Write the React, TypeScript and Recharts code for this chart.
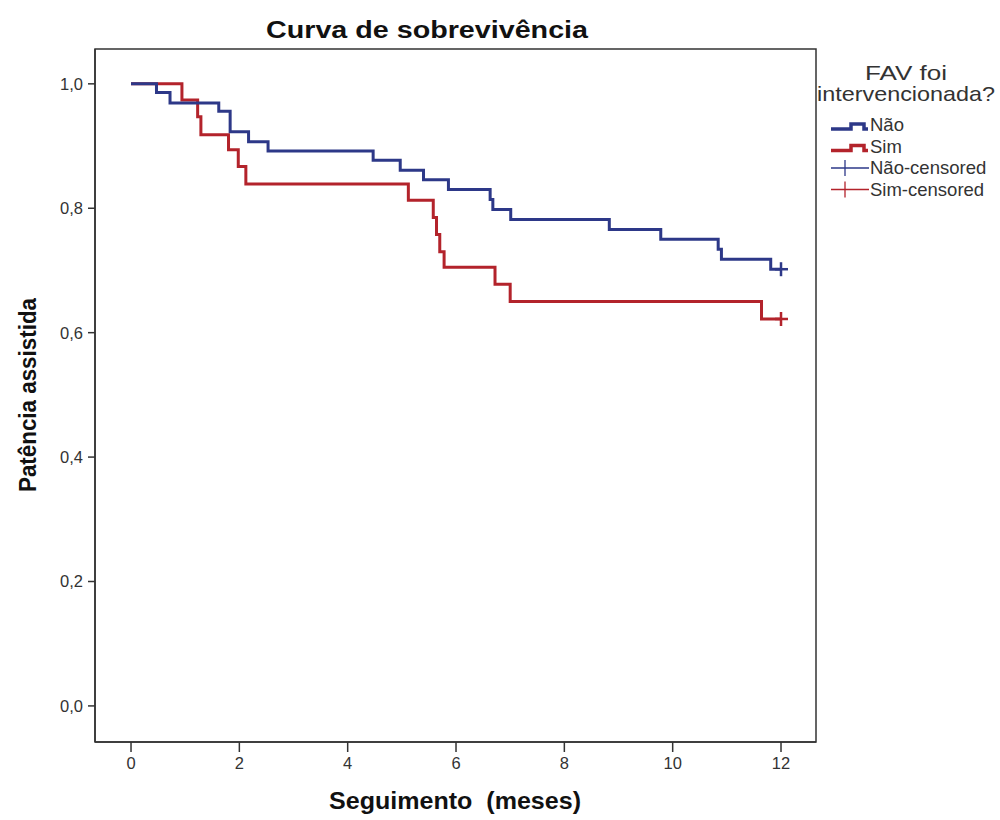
import React from "react";
import {
  ComposedChart,
  Line,
  Scatter,
  XAxis,
  YAxis,
  ReferenceArea,
} from "recharts";

// Kaplan-Meier step data (time in months, survival proportion)
const naoTimes = [0, 0.47, 0.72, 1.62, 1.83, 2.17, 2.53, 4.47, 4.97, 5.4, 5.86, 6.63, 6.68, 7.01, 8.83, 9.78, 10.84, 10.9, 11.81, 12.0];
const naoSurv = [1.0, 0.986, 0.969, 0.956, 0.923, 0.907, 0.892, 0.877, 0.861, 0.846, 0.83, 0.814, 0.798, 0.782, 0.766, 0.75, 0.734, 0.718, 0.702, 0.702];

const simTimes = [0, 0.94, 1.23, 1.29, 1.8, 1.98, 2.12, 5.12, 5.58, 5.64, 5.7, 5.78, 6.72, 7.0, 11.64, 12.0];
const simSurv = [1.0, 0.974, 0.947, 0.918, 0.894, 0.867, 0.839, 0.813, 0.785, 0.758, 0.73, 0.705, 0.678, 0.65, 0.622, 0.622];

const naoCensorTimes = [12.0];
const naoCensorSurv = [0.702];
const simCensorTimes = [12.0];
const simCensorSurv = [0.622];

const xTicks = [0, 2, 4, 6, 8, 10, 12];
const yTicks = [0, 0.2, 0.4, 0.6, 0.8, 1.0];

const seriesNames = ["Não", "Sim", "Não-censored", "Sim-censored"];
const legendTitle = ["FAV foi", "intervencionada?"];
const chartTitle = "Curva de sobrevivência";
const xTitle = "Seguimento\u00a0 (meses)";
const yTitle = "Patência assistida";

const BLUE = "#2d3888";
const RED = "#b3232b";

const X_DOMAIN: [number, number] = [-0.665, 12.646];
const Y_DOMAIN: [number, number] = [-0.058, 1.056];

const naoData = naoTimes.map((t, i) => ({ t, s: naoSurv[i] }));
const simData = simTimes.map((t, i) => ({ t, s: simSurv[i] }));
const naoCens = naoCensorTimes.map((t, i) => ({ t, s: naoCensorSurv[i] }));
const simCens = simCensorTimes.map((t, i) => ({ t, s: simCensorSurv[i] }));

const FONT = "'Liberation Sans', Arial, sans-serif";

const makePlus = (color: string) => (props: any) => {
  const { cx, cy } = props;
  if (cx == null || cy == null) return <g />;
  return (
    <g>
      <line x1={cx - 6} y1={cy} x2={cx + 7} y2={cy} stroke={color} strokeWidth={2.5} />
      <line x1={cx} y1={cy - 7} x2={cx} y2={cy + 7} stroke={color} strokeWidth={2.5} />
    </g>
  );
};

const legendRows = [
  { name: seriesNames[0], color: BLUE, kind: "step", w: 36 },
  { name: seriesNames[1], color: RED, kind: "step", w: 34 },
  { name: seriesNames[2], color: BLUE, kind: "cens", w: 119 },
  { name: seriesNames[3], color: RED, kind: "cens", w: 119 },
];

const LegendBlock = () => (
  <g>
    <text x={906} y={80} textAnchor="middle" fontFamily={FONT} fontSize={21} fill="#333" textLength={82} lengthAdjust="spacingAndGlyphs">
      {legendTitle[0]}
    </text>
    <text x={906} y={101} textAnchor="middle" fontFamily={FONT} fontSize={21} fill="#333" textLength={178} lengthAdjust="spacingAndGlyphs">
      {legendTitle[1]}
    </text>
    {legendRows.map((r, i) => {
      const y = 125 + i * 21.5;
      return (
        <g key={r.name}>
          {r.kind === "step" ? (
            <polyline
              points={`831,${y + 4} 851,${y + 4} 851,${y - 1} 864,${y - 1} 864,${y + 4} 868,${y + 4}`}
              fill="none"
              stroke={r.color}
              strokeWidth={3.5}
            />
          ) : (
            <g>
              <line x1={831} y1={y} x2={869} y2={y} stroke={r.color} strokeWidth={1.3} />
              <line x1={845} y1={y - 8} x2={845} y2={y + 8} stroke={r.color} strokeWidth={1.3} />
            </g>
          )}
          <text x={870} y={y + 6} fontFamily={FONT} fontSize={18.5} fill="#333">
            {r.name}
          </text>
        </g>
      );
    })}
  </g>
);

export default function App() {
  return (
    <div style={{ position: "absolute", left: 0, top: 0, width: 1000, height: 820, background: "#fff" }}>
      <ComposedChart
        width={1000}
        height={820}
        margin={{ top: 49, right: 184, bottom: 0, left: 0 }}
      >
        <XAxis
          dataKey="t"
          type="number"
          domain={X_DOMAIN}
          ticks={xTicks}
          allowDataOverflow
          height={78}
          axisLine={{ stroke: "#333", strokeWidth: 1.5 }}
          tickLine={{ stroke: "#333", strokeWidth: 1.5 }}
          tickSize={10}
          tickMargin={5}
          tick={{ fontFamily: FONT, fontSize: 16.5, fill: "#333" }}
        />
        <YAxis
          dataKey="s"
          type="number"
          domain={Y_DOMAIN}
          ticks={yTicks}
          allowDataOverflow
          width={95}
          axisLine={{ stroke: "#333", strokeWidth: 1.5 }}
          tickLine={{ stroke: "#333", strokeWidth: 1.5 }}
          tickSize={7}
          tickMargin={5}
          tickFormatter={(v: number) => v.toFixed(1).replace(".", ",")}
          tick={{ fontFamily: FONT, fontSize: 16.5, fill: "#333" }}
        />
        <ReferenceArea
          x1={X_DOMAIN[0]}
          x2={X_DOMAIN[1]}
          y1={Y_DOMAIN[0]}
          y2={Y_DOMAIN[1]}
          fill="none"
          stroke="#333"
          strokeWidth={1.5}
          ifOverflow="visible"
        />
        <Line
          data={simData}
          dataKey="s"
          type="stepAfter"
          stroke={RED}
          strokeWidth={3}
          dot={false}
          activeDot={false}
          isAnimationActive={false}
          name={seriesNames[1]}
        />
        <Line
          data={naoData}
          dataKey="s"
          type="stepAfter"
          stroke={BLUE}
          strokeWidth={3}
          dot={false}
          activeDot={false}
          isAnimationActive={false}
          name={seriesNames[0]}
        />
        <Scatter
          data={naoCens}
          dataKey="s"
          shape={makePlus(BLUE)}
          isAnimationActive={false}
          name={seriesNames[2]}
        />
        <Scatter
          data={simCens}
          dataKey="s"
          shape={makePlus(RED)}
          isAnimationActive={false}
          name={seriesNames[3]}
        />
        <LegendBlock />
        <text
          x={427}
          y={38}
          textAnchor="middle"
          fontFamily={FONT}
          fontSize={23}
          fontWeight="bold"
          fill="#111"
          textLength={322}
          lengthAdjust="spacingAndGlyphs"
        >
          {chartTitle}
        </text>
        <text
          x={455}
          y={809}
          textAnchor="middle"
          fontFamily={FONT}
          fontSize={23}
          fontWeight="bold"
          fill="#111"
          textLength={252}
          lengthAdjust="spacingAndGlyphs"
        >
          {xTitle}
        </text>
        <text
          x={36}
          y={395}
          transform="rotate(-90 36 395)"
          textAnchor="middle"
          fontFamily={FONT}
          fontSize={23}
          fontWeight="bold"
          fill="#111"
          textLength={194}
          lengthAdjust="spacingAndGlyphs"
        >
          {yTitle}
        </text>
      </ComposedChart>
    </div>
  );
}
